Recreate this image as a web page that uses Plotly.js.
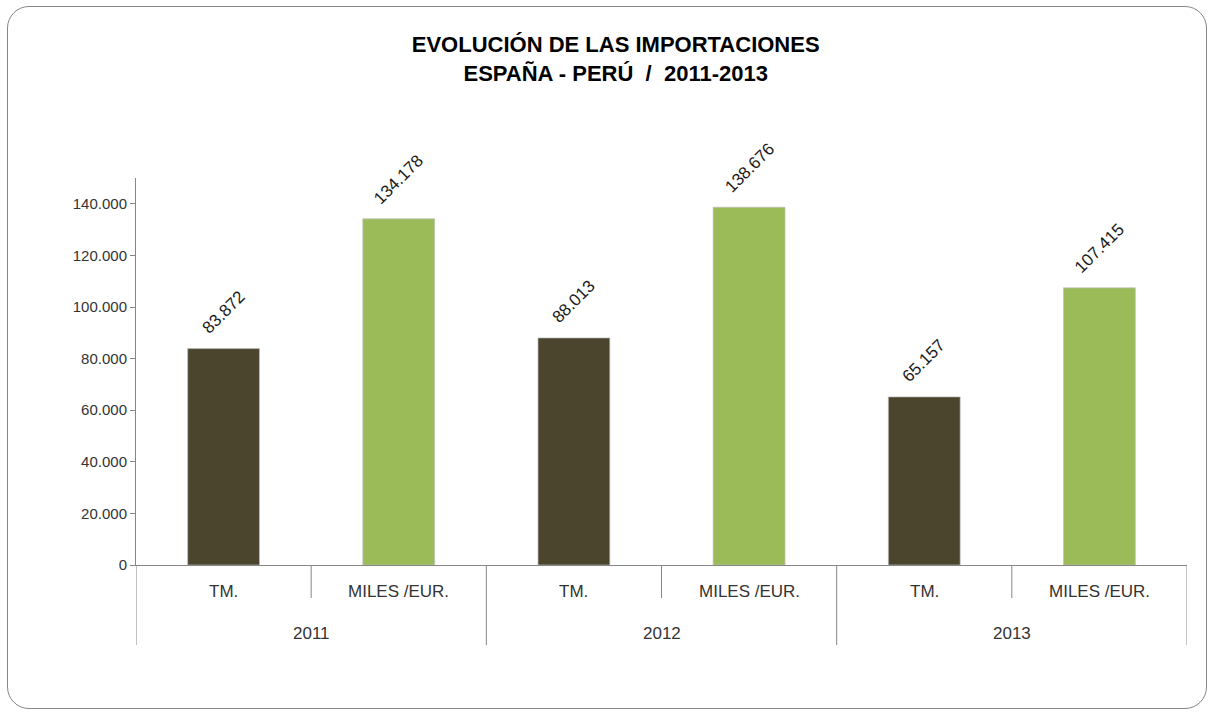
<!DOCTYPE html>
<html><head><meta charset="utf-8">
<script src="https://cdn.plot.ly/plotly-3.0.1.min.js"></script>
<style>
html,body{margin:0;padding:0;background:#fff;}
#chart{width:1212px;height:713px;}
#frame{position:absolute;left:7px;top:6px;width:1200px;height:703px;border:1.5px solid #868686;border-radius:22px;pointer-events:none;box-sizing:border-box;}
</style></head>
<body>
<div id="chart"></div>
<div id="frame"></div>
<script>
// Data
const years = ["2011","2012","2013"];
const units = ["TM.","MILES /EUR."];
const tmValues = [83872,88013,65157];
const eurValues = [134178,138676,107415];

// Colours
const tmColor = "#4a452c";
const eurColor = "#9bbb59";
const FONT = "Liberation Sans, Arial, sans-serif";

// Positions on a linear x axis: year i, unit j -> 2*i + j
const tmX = years.map((_, i) => 2*i);
const eurX = years.map((_, i) => 2*i + 1);

const fmt = v => v.toString().replace(/\B(?=(\d{3})+(?!\d))/g, ".");

const barLine = {color:"rgba(190,190,190,0.7)",width:1};
const traces = [
  {type:"bar",name:units[0],x:tmX,y:tmValues,width:0.41,marker:{color:tmColor,line:barLine},hoverinfo:"skip"},
  {type:"bar",name:units[1],x:eurX,y:eurValues,width:0.41,marker:{color:eurColor,line:barLine},hoverinfo:"skip"}
];

const annotations = [];
const shapes = [];
const plotH = 713-178-148;
// value labels
const allVals = tmValues.concat(eurValues);
tmX.concat(eurX).forEach((x, k) => {
  const v = allVals[k];
  annotations.push({x:x, y:v, xref:"x", yref:"y", text:fmt(v), showarrow:false,
    textangle:-45, xanchor:"center", yanchor:"bottom", yshift:8,
    font:{family:FONT,size:17,color:"#1a1a1a"}});
});
// unit labels
years.forEach((y, i) => units.forEach((u, j) => annotations.push({x:2*i+j, y:-26/plotH, xref:"x", yref:"paper", text:u,
  showarrow:false, xanchor:"center", yanchor:"middle", font:{family:FONT,size:17,color:"#333333"}})));
// year labels
years.forEach((y, i) => annotations.push({x:2*i+0.5, y:-68/plotH, xref:"x", yref:"paper", text:y,
  showarrow:false, xanchor:"center", yanchor:"middle", font:{family:FONT,size:17,color:"#333333"}}));
// short separators between units
years.forEach((y, i) => shapes.push({type:"line", xref:"x", yref:"paper", x0:2*i+0.5, x1:2*i+0.5,
  y0:0, y1:-33/plotH, line:{color:"#868686",width:1}}));
// long separators between years (including the two ends)
for (let i = 0; i <= years.length; i++) {
  shapes.push({type:"line", xref:"x", yref:"paper", x0:2*i-0.5, x1:2*i-0.5,
    y0:0, y1:-80/plotH, line:{color:"#868686",width:1}});
}

const layout = {
  width:1212,height:713,
  margin:{l:136,r:25,t:178,b:148},
  paper_bgcolor:"#fff",plot_bgcolor:"#fff",
  showlegend:false,
  title:{text:"<b>EVOLUCIÓN DE LAS IMPORTACIONES<br>ESPAÑA - PERÚ  /  2011-2013</b>",
    x:0.508,xanchor:"center",y:0.927,yanchor:"top",
    font:{family:FONT,size:22,color:"#000"}},
  xaxis:{range:[-0.5, 2*years.length-0.5],showline:true,linecolor:"#868686",linewidth:1,
    showticklabels:false,ticks:"",showgrid:false,zeroline:false},
  yaxis:{range:[0,150000],dtick:20000,tickformat:",d",showline:true,linecolor:"#868686",
    ticks:"outside",ticklen:5,tickcolor:"#868686",showgrid:false,zeroline:false,
    tickfont:{family:FONT,size:15,color:"#333333"}},
  separators:",.",
  annotations:annotations,
  shapes:shapes
};
Plotly.newPlot("chart",traces,layout,{displayModeBar:false,staticPlot:true});
</script>
</body></html>
